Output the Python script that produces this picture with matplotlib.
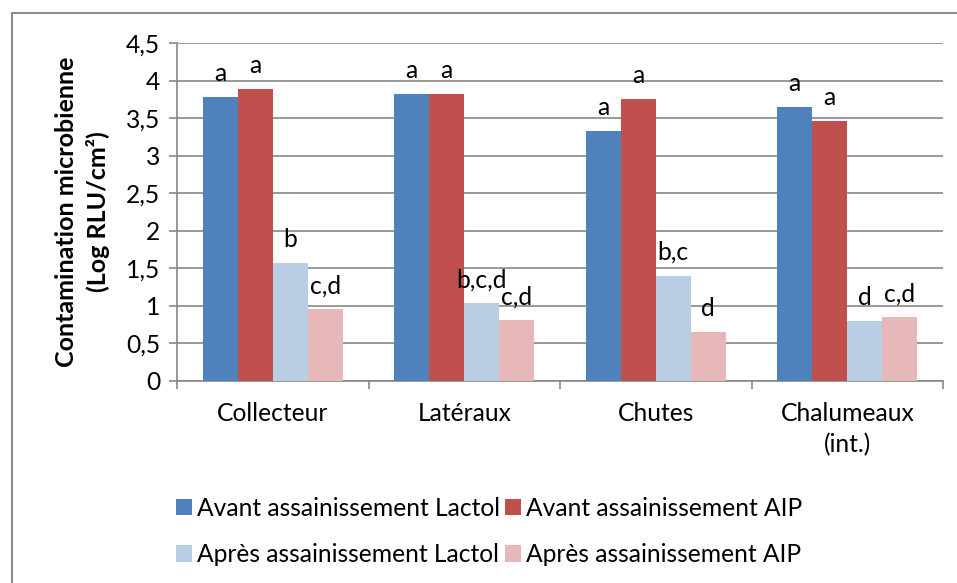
import numpy as np
import matplotlib
matplotlib.use('Agg')
import matplotlib.pyplot as plt
from matplotlib.patches import Rectangle

plt.rcParams['font.family'] = ['Lato', 'DejaVu Sans']

# Données
categories = ['Collecteur', 'Latéraux', 'Chutes', 'Chalumeaux\n(int.)']
series = ['Avant assainissement Lactol', 'Avant assainissement AIP',
          'Après assainissement Lactol', 'Après assainissement AIP']
avant_lactol = [3.78, 3.82, 3.33, 3.65]
avant_aip = [3.89, 3.82, 3.76, 3.46]
apres_lactol = [1.57, 1.04, 1.40, 0.80]
apres_aip = [0.96, 0.81, 0.65, 0.85]
lettres_avant_lactol = ['a', 'a', 'a', 'a']
lettres_avant_aip = ['a', 'a', 'a', 'a']
lettres_apres_lactol = ['b', 'b,c,d', 'b,c', 'd']
lettres_apres_aip = ['c,d', 'c,d', 'd', 'c,d']

couleurs = ['#4F81BD', '#C0504D', '#B9CDE5', '#E6B9B8']
valeurs = [avant_lactol, avant_aip, apres_lactol, apres_aip]
lettres = [lettres_avant_lactol, lettres_avant_aip, lettres_apres_lactol, lettres_apres_aip]

fs = 17.7
fig = plt.figure(figsize=(9.57, 5.83), dpi=100)
ax = fig.add_axes([177/957, 1 - 381/583, (943 - 177)/957, (381 - 43)/583])

x = np.arange(len(categories))
w = 0.183
gris = '#878787'
handles = []
for i, (vals, lab, col, lets) in enumerate(zip(valeurs, series, couleurs, lettres)):
    pos = x + (i - 1.5) * w
    b = ax.bar(pos, vals, w, color=col, label=lab, zorder=3)
    handles.append(b)
    for px, v, t in zip(pos, vals, lets):
        ax.annotate(t, (px, v), xytext=(0, 8.5), textcoords='offset points',
                    ha='center', va='bottom', fontsize=fs)

ax.set_xlim(-0.5, 3.5)
ax.set_ylim(0, 4.5)
ax.set_yticks(np.arange(0, 4.51, 0.5))
ax.set_yticklabels(['0', '0,5', '1', '1,5', '2', '2,5', '3', '3,5', '4', '4,5'], fontsize=fs)
ax.set_xticks(x)
ax.set_xticklabels(categories, fontsize=fs, linespacing=1.4)
ax.set_xticks(np.arange(-0.5, 3.6, 1), minor=True)
ax.tick_params(axis='x', which='major', length=0, pad=15)
ax.tick_params(axis='x', which='minor', length=6, color=gris, width=1.2, direction='out')
ax.tick_params(axis='y', length=6, color=gris, width=1.2, pad=6)
ax.yaxis.grid(True, color=gris, linewidth=1.2, zorder=0)
ax.set_axisbelow(True)
for s in ['top', 'right']:
    ax.spines[s].set_visible(False)
for s in ['left', 'bottom']:
    ax.spines[s].set_color(gris)
    ax.spines[s].set_linewidth(1.2)

ax.set_ylabel('Contamination microbienne\n(Log RLU/cm²)', fontsize=18,
              fontweight='bold', linespacing=1.4)
ax.yaxis.set_label_coords(-0.088, 0.5)

# légende: ordre ligne par ligne
ordre = [handles[0], handles[2], handles[1], handles[3]]
fig.legend(handles=ordre, loc='upper left', bbox_to_anchor=(166/957, 1 - 487/583),
           ncol=2, frameon=False, fontsize=fs, handlelength=0.65, handleheight=0.65,
           handletextpad=0.2, columnspacing=0.2, labelspacing=0.95, borderaxespad=0)

# Cadre extérieur
fig.patches.append(Rectangle((12/957, -0.1), 1.2, 1 - 13/583 + 0.1, transform=fig.transFigure,
                             fill=False, edgecolor='#8C8C8C', linewidth=1.5))

fig.savefig('out.png', dpi=100)
